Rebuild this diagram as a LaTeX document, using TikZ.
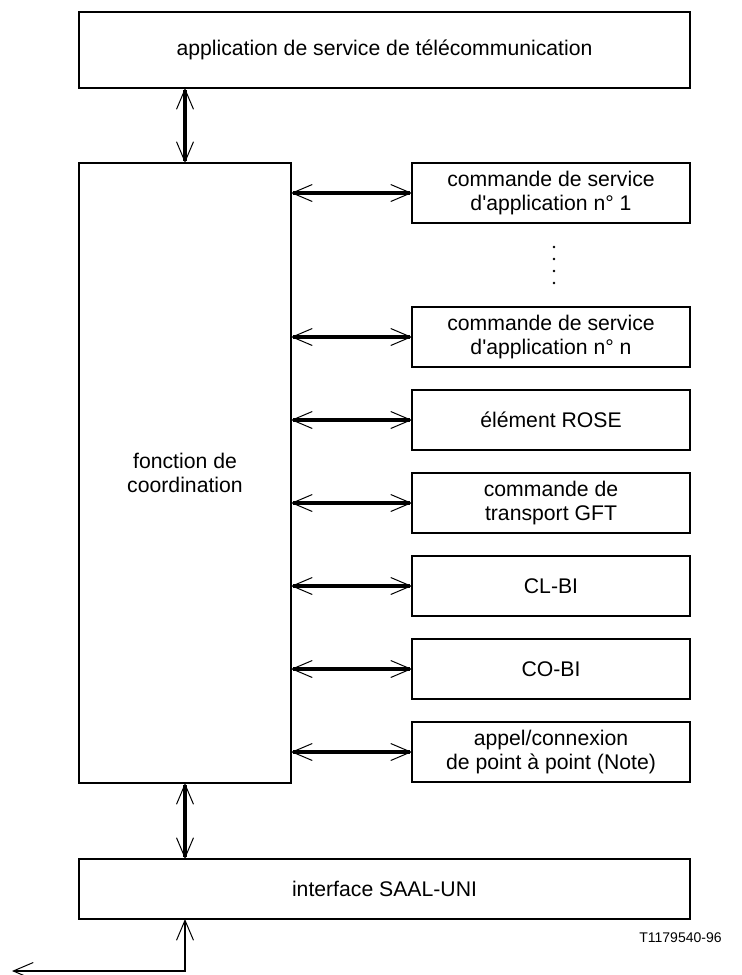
\documentclass[tikz,border=0pt]{standalone}
\usepackage{fontspec}
\setmainfont{Liberation Sans}
\usetikzlibrary{arrows.meta,positioning,calc}

\begin{document}
\begin{tikzpicture}[
			node distance=11.5pt,
			block/.style={draw, line width=1pt, outer sep=0pt, minimum height=30pt, align=center, font=\fontsize{10.6}{12}\selectfont},
			side/.style={block, minimum width=139pt},
			line/.style={{Straight Barb[length=10pt,width=8.5pt,line width'=0.5pt]}-{Straight Barb[length=10pt,width=8.5pt,line width'=0.5pt]}, line width=1.75pt}
			]
			\useasboundingbox (0,0) rectangle (371pt,-487.5pt);
			\node[block, minimum width=305.5pt, minimum height=38pt] (app) at (192.25pt,-25pt) {application de service de télécommunication};
			\node[block, minimum width=106pt, minimum height=310pt] (coord) at (92.5pt,-236.5pt) {fonction de\\coordination};
			\node[side] (cmd1) at (275.5pt,-96.5pt) {commande de service\\d\textquotesingle application n° 1};
			\node[side, below=42pt of cmd1] (cmdn) {commande de service\\d\textquotesingle application n° n};
			\node[side, below=of cmdn] (rose) {élément ROSE};
			\node[side, below=of rose] (gft) {commande de\\transport GFT};
			\node[side, below=of gft] (clbi) {CL-BI};
			\node[side, below=of clbi] (cobi) {CO-BI};
			\node[side, below=of cobi] (p2p) {appel/connexion\\de point à point (Note)};
			\node[block, minimum width=305.5pt] (saal) at (192.25pt,-444.5pt) {interface SAAL-UNI};
			\node[anchor=east, font=\fontsize{7}{8}\selectfont, inner sep=0pt] (code) at (361pt,-469pt) {T1179540-96};
			
			% pointillés entre n° 1 et n° n
			\coordinate (dots) at ($(cmd1.south)!0.5!(cmdn.north)+(1.5pt,9pt)$);
			\foreach \k in {0,...,3}
				\fill ($(dots)+(0,-6*\k pt)$) circle (0.7pt);
			
			\draw[line] (coord.north) -- (coord.north |- app.south);
			\draw[line] (coord.south) -- (coord.south |- saal.north);
			\foreach \n in {cmd1,cmdn,rose,gft,clbi,cobi,p2p}
				\draw[line] (coord.east |- \n) -- (\n.west);
			\coordinate (bend) at ($(saal.south -| coord.south)+(0,-26pt)$);
			\coordinate (exit) at (6pt,-485.5pt);
			\draw[line, line width=1pt] (exit) -- (bend) -- (bend |- saal.south);
		\end{tikzpicture}
\end{document}
